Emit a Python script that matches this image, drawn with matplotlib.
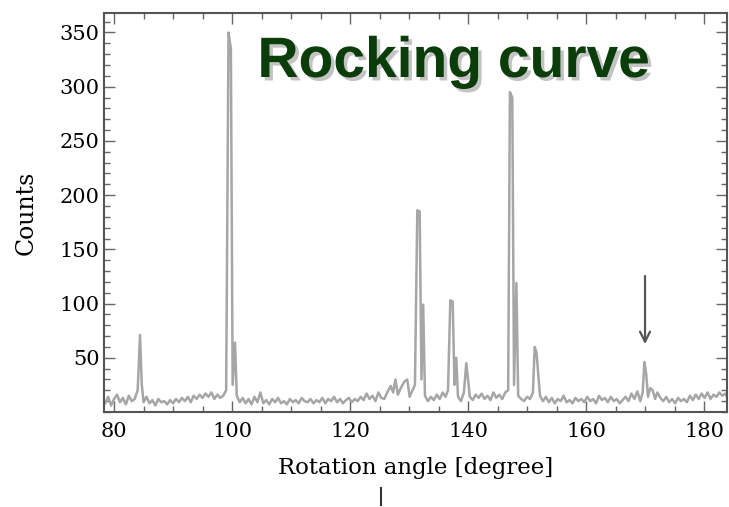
import matplotlib
matplotlib.use("Agg")
import matplotlib.pyplot as plt
import matplotlib.patheffects as pe
from matplotlib.lines import Line2D
from matplotlib.ticker import MultipleLocator

# rotation angle [degree] and counts (rows of angle/counts line up)
angle = [78.5, 79, 79.5, 80, 80.5, 81, 81.5, 82, 82.5, 83, 83.5, 84.0,
         84.4, 84.7, 85.0, 85.5, 86, 86.5, 87, 87.5, 88, 88.5, 89, 89.5,
         90, 90.5, 91, 91.5, 92, 92.5, 93, 93.5, 94, 94.5, 95, 95.5,
         96, 96.5, 97, 97.5, 98, 98.5, 99.0, 99.4, 99.8, 100.1, 100.5, 100.8,
         101.3, 101.8, 102.3, 102.8, 103.3, 103.8, 104.3, 104.8, 105.3, 105.8, 106.3, 106.8,
         107.3, 107.8, 108.3, 108.8, 109.3, 109.8, 110.3, 110.8, 111.3, 111.8, 112.3, 112.8,
         113.3, 113.8, 114.3, 114.8, 115.3, 115.8, 116.3, 116.8, 117.3, 117.8, 118.3, 118.8,
         119.3, 119.8, 120.3, 120.8, 121.3, 121.8, 122.3, 122.8, 123.3, 123.8, 124.3, 124.8,
         125.3, 125.8, 126.3, 126.9, 127.3, 127.7, 128.1, 128.6, 129.2, 129.7, 130.1, 130.6,
         131.0, 131.4, 131.8, 132.1, 132.4, 132.7, 133.2, 133.7, 134.2, 134.7, 135.2, 135.7,
         136.2, 136.6, 137.0, 137.4, 137.7, 138.0, 138.3, 138.8, 139.3, 139.7, 140.0, 140.3,
         140.8, 141.3, 141.8, 142.3, 142.8, 143.3, 143.8, 144.3, 144.8, 145.3, 145.8, 146.3,
         146.8, 147.1, 147.5, 147.8, 148.2, 148.5, 149.0, 149.5, 150.0, 150.5, 151.0, 151.3,
         151.6, 151.9, 152.2, 152.7, 153.2, 153.7, 154.2, 154.7, 155.2, 155.7, 156.2, 156.7,
         157.2, 157.7, 158.2, 158.7, 159.2, 159.7, 160.2, 160.7, 161.2, 161.7, 162.2, 162.7,
         163.2, 163.7, 164.2, 164.7, 165.2, 165.7, 166.2, 166.7, 167.2, 167.7, 168.2, 168.7,
         169.2, 169.6, 169.9, 170.2, 170.5, 170.9, 171.3, 171.7, 172.1, 172.6, 173.1, 173.6,
         174.1, 174.6, 175.1, 175.6, 176.1, 176.6, 177.1, 177.6, 178.1, 178.6, 179.1, 179.6,
         180.1, 180.6, 181.1, 181.6, 182.1, 182.6, 183.1, 183.6, 183.9]
counts = [8, 14, 6, 12, 16, 9, 13, 7, 15, 10, 12, 20,
          71, 25, 9, 14, 8, 11, 6, 12, 9, 10, 7, 11,
          8, 12, 9, 13, 10, 14, 9, 15, 12, 16, 13, 17,
          14, 18, 12, 16, 13, 15, 20, 350, 335, 25, 64, 15,
          9, 13, 8, 12, 7, 14, 9, 18, 8, 11, 7, 12,
          9, 13, 8, 10, 7, 12, 9, 11, 8, 13, 10, 9,
          12, 8, 11, 9, 13, 8, 12, 10, 14, 9, 12, 8,
          11, 13, 9, 12, 10, 14, 11, 17, 12, 15, 10, 18,
          13, 12, 18, 24, 18, 30, 16, 22, 28, 30, 14, 20,
          25, 186, 185, 30, 99, 15, 10, 14, 11, 16, 12, 18,
          14, 20, 103, 102, 25, 50, 14, 10, 18, 45, 30, 14,
          11, 16, 13, 17, 12, 15, 11, 18, 13, 16, 12, 18,
          20, 295, 290, 25, 119, 15, 12, 10, 14, 12, 18, 60,
          55, 35, 15, 10, 14, 9, 13, 8, 12, 10, 15, 9,
          11, 8, 13, 10, 12, 9, 14, 10, 12, 8, 15, 11,
          13, 9, 14, 10, 12, 8, 11, 14, 10, 17, 12, 19,
          10, 18, 46, 35, 14, 22, 20, 12, 18, 13, 10, 14,
          9, 12, 8, 13, 10, 12, 9, 15, 11, 16, 12, 17,
          13, 18, 12, 16, 14, 18, 15, 17, 14]
assert len(angle) == len(counts)

fig = plt.figure(figsize=(7.29, 5.07), dpi=100)
ax = fig.add_axes([0.1427, 0.1874, 0.8546, 0.787])

ax.plot(angle, counts, color="#a6a6a6", lw=1.8)
ax.annotate("", xy=(170.0, 60), xytext=(170.0, 128),
            arrowprops=dict(arrowstyle="->", color="#555555", lw=1.6, mutation_scale=18))

ax.set_xlim(78.3, 183.9)
ax.set_ylim(0, 368)
ax.xaxis.set_major_locator(MultipleLocator(20))
ax.xaxis.set_minor_locator(MultipleLocator(5))
ax.yaxis.set_minor_locator(MultipleLocator(10))
ax.set_yticks([50, 100, 150, 200, 250, 300, 350])
ax.tick_params(which="both", direction="in", top=True, right=True, color="#666666")
ax.tick_params(which="major", length=8, width=1)
ax.tick_params(which="minor", length=4, width=1)
ax.tick_params(axis="x", pad=7)
ax.tick_params(axis="y", pad=3)
for lab in ax.get_xticklabels() + ax.get_yticklabels():
    lab.set_fontfamily("DejaVu Serif")
    lab.set_fontsize(15)
for s in ax.spines.values():
    s.set_color("#555555")
    s.set_linewidth(1.5)

ax.set_xlabel("Rotation angle [degree]", fontfamily="DejaVu Serif", fontsize=16.5, labelpad=12)
ax.set_ylabel("Counts", fontfamily="DejaVu Serif", fontsize=17, labelpad=16)

fig.text(454 / 729, (507 - 77) / 507, "Rocking curve", ha="center", va="baseline",
         fontfamily="Liberation Sans", fontweight="bold", fontsize=41, color="#0b3d0b",
         path_effects=[pe.SimplePatchShadow(offset=(2.5, -2.5), shadow_rgbFace="#bdbdbd", alpha=0.9),
                       pe.Normal()])

fig.add_artist(Line2D([381 / 729, 381 / 729], [(507 - 488) / 507, (507 - 505) / 507],
                      color="#333333", lw=1.5))

fig.savefig("out.png", dpi=100)
